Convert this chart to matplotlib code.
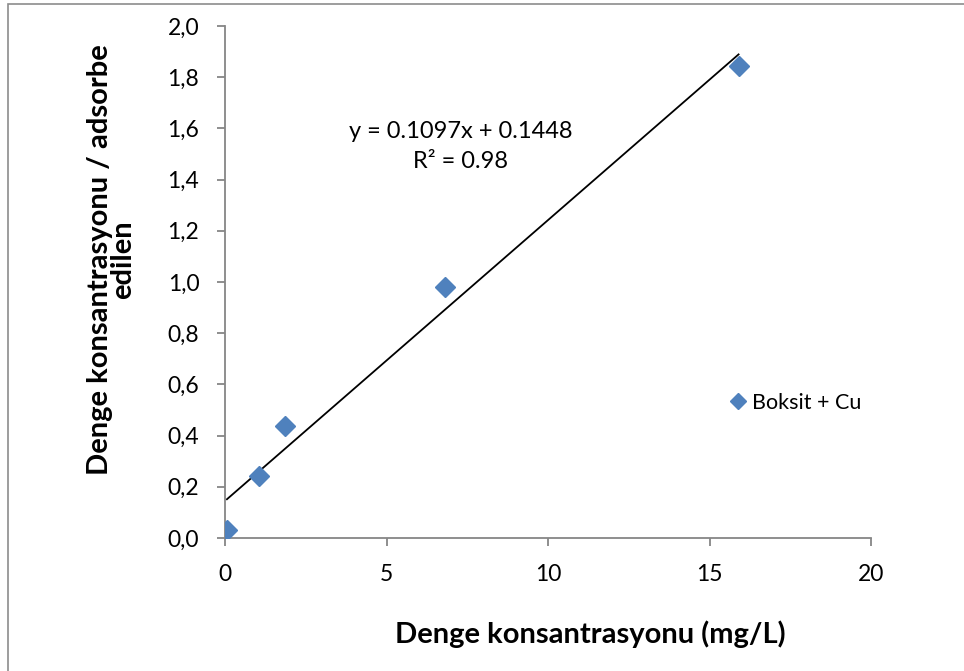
import matplotlib
matplotlib.use("Agg")
import matplotlib.pyplot as plt
from matplotlib.patches import Rectangle
import numpy as np

# Equilibrium concentration vs. concentration / adsorbed ratio
conc = [0.06, 1.05, 1.85, 6.8, 15.9]
ratio = [0.031, 0.243, 0.437, 0.98, 1.842]
series_name = "Boksit + Cu"
slope, intercept = 0.1097, 0.1448
r2_text = "R\u00b2 = 0.98"

x_ticks = [0, 5, 10, 15, 20]
y_ticks = [0.0, 0.2, 0.4, 0.6, 0.8, 1.0, 1.2, 1.4, 1.6, 1.8, 2.0]
y_tick_labels = ["0,0", "0,2", "0,4", "0,6", "0,8", "1,0", "1,2", "1,4", "1,6", "1,8", "2,0"]

plt.rcParams["font.family"] = ["Lato", "DejaVu Sans"]

fig = plt.figure(figsize=(9.64, 6.71), dpi=100)
fig.patches.append(Rectangle((8 / 964, -0.01), 1.02, 1 - 4 / 671 + 0.01,
                             transform=fig.transFigure, fill=False,
                             edgecolor="#8c8c8c", linewidth=1.2))

ax = fig.add_axes([225 / 964, 1 - 538 / 671, (871 - 225) / 964, (538 - 26) / 671])

blue = "#4F81BD"
ax.plot(conc, ratio, linestyle="none", marker="D", markersize=10,
        color=blue, label=series_name, zorder=3)

xs = np.array([min(conc), max(conc)])
ax.plot(xs, slope * xs + intercept, color="black", linewidth=1.3, zorder=2)

ax.set_xlim(0, 20)
ax.set_ylim(0, 2.0)
ax.set_xticks(x_ticks)
ax.set_yticks(y_ticks)
ax.set_yticklabels(y_tick_labels)

for side in ("top", "right"):
    ax.spines[side].set_visible(False)
for side in ("left", "bottom"):
    ax.spines[side].set_color("#868686")
    ax.spines[side].set_linewidth(1.3)
ax.tick_params(direction="out", length=5.5, width=1.3, color="#868686",
               labelsize=16.5, pad=13)

ax.set_xlabel("Denge konsantrasyonu (mg/L)", fontsize=21, fontweight="bold")
ax.xaxis.set_label_coords(0.565, -0.16)
ax.set_ylabel("Denge konsantrasyonu / adsorbe\nedilen", fontsize=21,
              fontweight="bold", linespacing=0.9)
ax.yaxis.set_label_coords(-0.137, 0.543)

ax.text(7.3, 1.53, f"y = {slope}x + {intercept}\n{r2_text}", ha="center",
        va="center", fontsize=17, linespacing=1.55)

leg = ax.legend(loc="center left", bbox_to_anchor=(0.772, 0.264), frameon=False,
                fontsize=15.5, handletextpad=0.0, markerscale=0.8,
                handlelength=1.3, borderaxespad=0, borderpad=0)

fig.savefig("out.png", dpi=100)
